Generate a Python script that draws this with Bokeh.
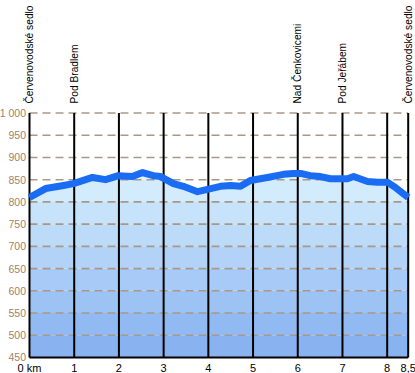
from bokeh.plotting import figure
from bokeh.models import Range1d
from bokeh.core.properties import value
from bokeh.embed import file_html
from bokeh.resources import INLINE

# ---- data ----
km = [0.0, 0.36, 0.76, 0.98, 1.41, 1.70, 1.99, 2.30, 2.53, 2.77, 2.93, 3.22, 3.44,
      3.76, 3.98, 4.27, 4.50, 4.72, 4.94, 5.32, 5.68, 5.90, 6.06, 6.28, 6.51, 6.73,
      7.11, 7.25, 7.56, 7.78, 8.01, 8.19, 8.47]
elev = [810, 830, 837, 841, 855, 850, 859, 857, 866, 859, 857, 841, 835,
        823, 828, 835, 837, 835, 848, 855, 862, 864, 864, 859, 857, 852,
        852, 857, 846, 844, 844, 832, 810]

x_ticks = [0, 1, 2, 3, 4, 5, 6, 7, 8, 8.47]
x_tick_labels = ["0 km", "1", "2", "3", "4", "5", "6", "7", "8", "8,5"]
y_ticks = [450, 500, 550, 600, 650, 700, 750, 800, 850, 900, 950, 1000]
y_tick_labels = ["450", "500", "550", "600", "650", "700", "750", "800", "850",
                 "900", "950", "1 000"]
place_km = [0, 1, 6, 7, 8.47]
place_names = ["Červenovodské sedlo", "Pod Bradlem", "Nad Čenkovicemi",
               "Pod Jeřábem", "Červenovodské sedlo"]

END = km[-1]
FONT = value("Liberation Sans")
PXKM = 44.71   # px per km
PXM = 0.4445   # px per metre
X0 = 29        # x of 0 km
Y1000 = 112.5  # y of 1000 m

p = figure(width=415, height=373, output_backend="svg", toolbar_location=None,
           x_axis_type=None, y_axis_type=None,
           x_range=Range1d(-X0 / PXKM, (415 - X0) / PXKM),
           y_range=Range1d(1000 - (373 - Y1000) / PXM, 1000 + Y1000 / PXM),
           min_border=0, outline_line_color=None, background_fill_color="white",
           border_fill_color="white")

# gradient bands under the profile
top_c = (0xDC, 0xF3, 0xFF)
bot_c = (0x88, 0xB2, 0xF0)
band_lo = list(range(450, 900, 50))
n = len(band_lo)
cols = []
for i in range(n):
    t = i / (n - 1)
    c = tuple(int(round(bot_c[k] + (top_c[k] - bot_c[k]) * t)) for k in range(3))
    cols.append("#%02x%02x%02x" % c)
p.quad(left=0, right=END, bottom=band_lo, top=[b + 50 for b in band_lo],
       fill_color=cols, line_color=None)

# white above the profile
p.varea(x=km, y1=elev, y2=1000, fill_color="white")

# dashed grid
for yv in y_ticks[1:]:
    p.line([0, END], [yv, yv], line_color="#a99888", line_width=1.6, line_dash="8 5")

# vertical km lines
p.segment(x0=x_ticks, y0=450, x1=x_ticks, y1=1000, line_color="black", line_width=2)
# bottom axis line
p.line([0, END], [450, 450], line_color="black", line_width=2)

# profile line
p.line(km, elev, line_color="#1a6cf2", line_width=7, line_join="round")

# tick labels
p.text(x=[-3.5 / PXKM] * len(y_ticks), y=y_ticks, text=y_tick_labels,
       text_align="right", text_baseline="middle", text_font=FONT,
       text_font_size="10.5px", text_color="#a0826a")
p.text(x=x_ticks, y=[1000 - (367.5 - Y1000) / PXM] * len(x_ticks), text=x_tick_labels,
       text_align="center", text_baseline="middle", text_font=FONT,
       text_font_size="11px", text_color="black")

# place names
p.text(x=place_km, y=[1000 + 9.5 / PXM] * len(place_km), text=place_names,
       angle=1.5708, text_align="left", text_baseline="middle", text_font=FONT,
       text_font_size="10.2px", text_color="black")

open("out.html", "w").write(file_html(p, INLINE))
